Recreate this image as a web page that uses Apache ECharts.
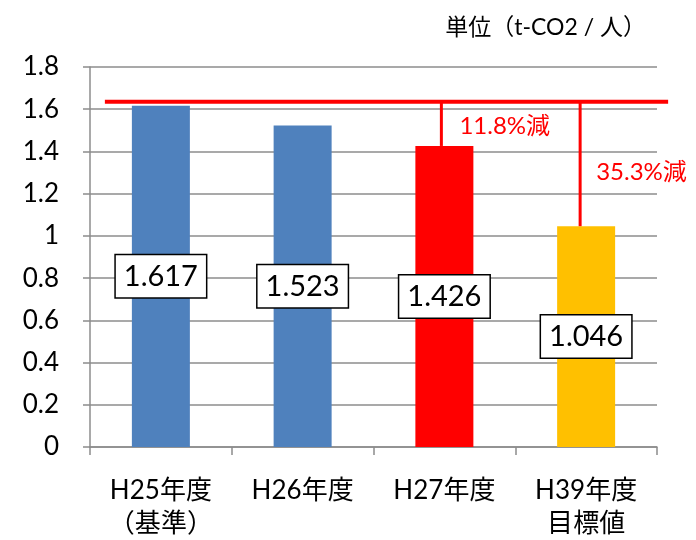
<!DOCTYPE html>
<html>
<head>
<meta charset="utf-8">
<script src="https://cdn.jsdelivr.net/npm/echarts@6/dist/echarts.min.js"></script>
<style>
  html, body { margin: 0; padding: 0; background: #fff; }
  #main { width: 696px; height: 540px; }
</style>
</head>
<body>
<div id="main"></div>
<script>
// categories and values
const categories = ['H25年度\n（基準）', 'H26年度', 'H27年度', 'H39年度\n目標値']
const values = [1.617, 1.523, 1.426, 1.046]
const barColors = ['#4F81BD', '#4F81BD', '#FF0000', '#FFC000']
const yTicks = { min: 0, max: 1.8, interval: 0.2 }
const baseLine = 1.635
const reductions = [
  { index: 2, text: '11.8%減' },
  { index: 3, text: '35.3%減' }
]
const unitText = '単位（t-CO2 / 人）'

const FONT = "Lato, 'Noto Sans CJK JP', sans-serif"
const GRAY = '#8c8c8c'

const chart = echarts.init(document.getElementById('main'))

const option = {
  animation: false,
  textStyle: { fontFamily: FONT },
  grid: { left: 90, right: 39, top: 67, bottom: 93 },
  xAxis: {
    type: 'category',
    data: categories,
    axisLine: { lineStyle: { color: GRAY, width: 1.5 } },
    axisTick: { show: true, length: 8, lineStyle: { color: GRAY, width: 1.5 } },
    axisLabel: {
      color: '#000',
      fontSize: 26,
      lineHeight: 33,
      margin: 27,
      fontFamily: FONT
    }
  },
  yAxis: {
    type: 'value',
    min: yTicks.min,
    max: yTicks.max,
    interval: yTicks.interval,
    axisLine: { show: true, lineStyle: { color: GRAY, width: 1.5 } },
    axisTick: { show: true, length: 7, lineStyle: { color: GRAY, width: 1.5 } },
    splitLine: { show: true, lineStyle: { color: GRAY, width: 1.5 } },
    axisLabel: {
      color: '#000',
      fontSize: 26,
      margin: 31,
      fontFamily: FONT,
      formatter: function (v) { return String(Math.round(v * 10) / 10) }
    }
  },
  series: [{
    type: 'bar',
    barWidth: 58,
    data: values.map((v, i) => ({ value: v, itemStyle: { color: barColors[i] } })),
    label: {
      show: true,
      position: 'inside',
      formatter: p => p.value.toFixed(3),
      color: '#000',
      fontSize: 29,
      fontFamily: FONT,
      backgroundColor: '#fff',
      borderColor: '#000',
      borderWidth: 1.5,
      padding: [8, 8, 5, 8]
    },
    z: 2
  }]
}

chart.setOption(option)

// reference line and reduction markers, positioned through the axes
function drawMarks () {
  const yBase = chart.convertToPixel({ yAxisIndex: 0 }, baseLine)
  const x0 = chart.convertToPixel({ xAxisIndex: 0 }, categories[0])
  const xLast = chart.convertToPixel({ xAxisIndex: 0 }, categories[categories.length - 1])
  const elements = [{
    type: 'line',
    shape: { x1: x0 - 56, y1: yBase, x2: xLast + 82, y2: yBase },
    style: { stroke: '#FF0000', lineWidth: 4 },
    z: 10
  }]
  const offsets = [0, 0, -3, -6]
  const textPos = { 2: { dx: 18, dy: 24 }, 3: { dx: 16, dy: 70 } }
  reductions.forEach(r => {
    const x = chart.convertToPixel({ xAxisIndex: 0 }, categories[r.index]) + offsets[r.index]
    const yTop = chart.convertToPixel({ yAxisIndex: 0 }, values[r.index])
    elements.push({
      type: 'line',
      shape: { x1: x, y1: yBase, x2: x, y2: yTop },
      style: { stroke: '#FF0000', lineWidth: 3 },
      z: 10
    })
    elements.push({
      type: 'text',
      x: x + textPos[r.index].dx,
      y: yBase + textPos[r.index].dy,
      style: {
        text: r.text,
        fill: '#FF0000',
        fontSize: 24,
        fontFamily: FONT,
        verticalAlign: 'middle'
      },
      z: 10
    })
  })
  elements.push({
    type: 'text',
    right: 50,
    top: 16,
    style: { text: unitText, fill: '#000', fontSize: 23, fontFamily: FONT },
    z: 10
  })
  chart.setOption({ graphic: elements })
}
drawMarks()
</script>
</body>
</html>
